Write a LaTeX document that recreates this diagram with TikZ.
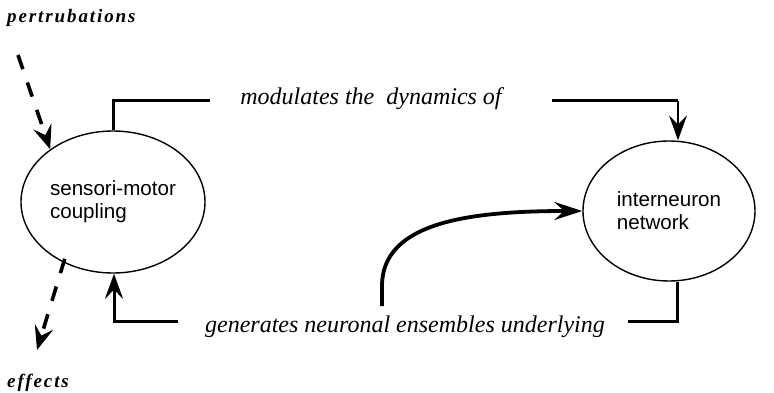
\documentclass[tikz,border=0pt]{standalone}
\usepackage{fontspec}
\setmainfont{Liberation Serif}
\setsansfont{Liberation Sans}
\newfontfamily\labfont[LetterSpace=10]{Liberation Serif}
\usetikzlibrary{shapes.geometric,arrows.meta,calc}
\begin{document}
\begin{tikzpicture}[x=1pt,y=-1pt,
  blob/.style={ellipse,draw,line width=1.4pt,inner sep=0pt,align=left,
    font=\sffamily\fontsize{20.6}{23}\selectfont},
  heavy/.style={line width=3pt},
  light/.style={line width=1.4pt},
  tip/.style={-{Stealth[length=25pt,width=18pt,inset=9pt]}},
  dashtip/.style={-{Stealth[length=24pt,width=19pt,inset=9pt]}},
  dashy/.style={line width=3.6pt,dash pattern=on 15pt off 14pt},
  phrase/.style={font=\itshape\fontsize{24}{28}\selectfont,anchor=base,inner sep=0pt},
  tag/.style={font=\labfont\bfseries\itshape\fontsize{19}{22}\selectfont,anchor=base west,inner sep=0pt}]
\useasboundingbox (0,0) rectangle (774,393);

\node[blob,minimum width=184pt,minimum height=142pt] (L) at (113,202) {sensori-motor\\coupling};
\node[blob,minimum width=172pt,minimum height=140pt] (R) at (669,211) {interneuron\\network};

\node[tag] (pert) at (7,23) {pertrubations};
\node[tag] (eff) at (7,387) {effects};

\node[phrase] (mod) at (371,105) {modulates the\ \ dynamics of};
\node[phrase] (gen) at (405,332) {generates neuronal ensembles underlying};

% top connector
\coordinate (t1) at (210,101);
\coordinate (t2) at (552,101);
\coordinate (t3) at (678,101);
\draw[heavy] (L.north) |- (t1);
\draw[heavy] (t2) -- (t3);
\draw[light,tip] (t3) -- (t3 |- R.north);

% bottom connector
\coordinate (b0) at (677,321);
\coordinate (b1) at (628,321);
\coordinate (b2) at (178,321);
\coordinate (b3) at (114,321);
\draw[heavy] (b0 |- R.south) -- (b0) -- (b1);
\draw[heavy,tip] (b2) -- (b3) -- (b3 |- L.south);

% curved arrow
\coordinate (c0) at (382,306);
\draw[line width=3.8pt,-{Stealth[length=28pt,width=18pt,inset=10pt]}] (c0) -- (382,286) .. controls (382,222) and (470,211) .. (R.west);

% dashed arrows
\coordinate (p0) at (18,55);
\draw[dashy,dashtip] (p0) -- (L.140);
\coordinate (e1) at (37,350);
\draw[dashy,dashtip] ($(L.231)+(1,-4)$) -- (e1);
\end{tikzpicture}
\end{document}
